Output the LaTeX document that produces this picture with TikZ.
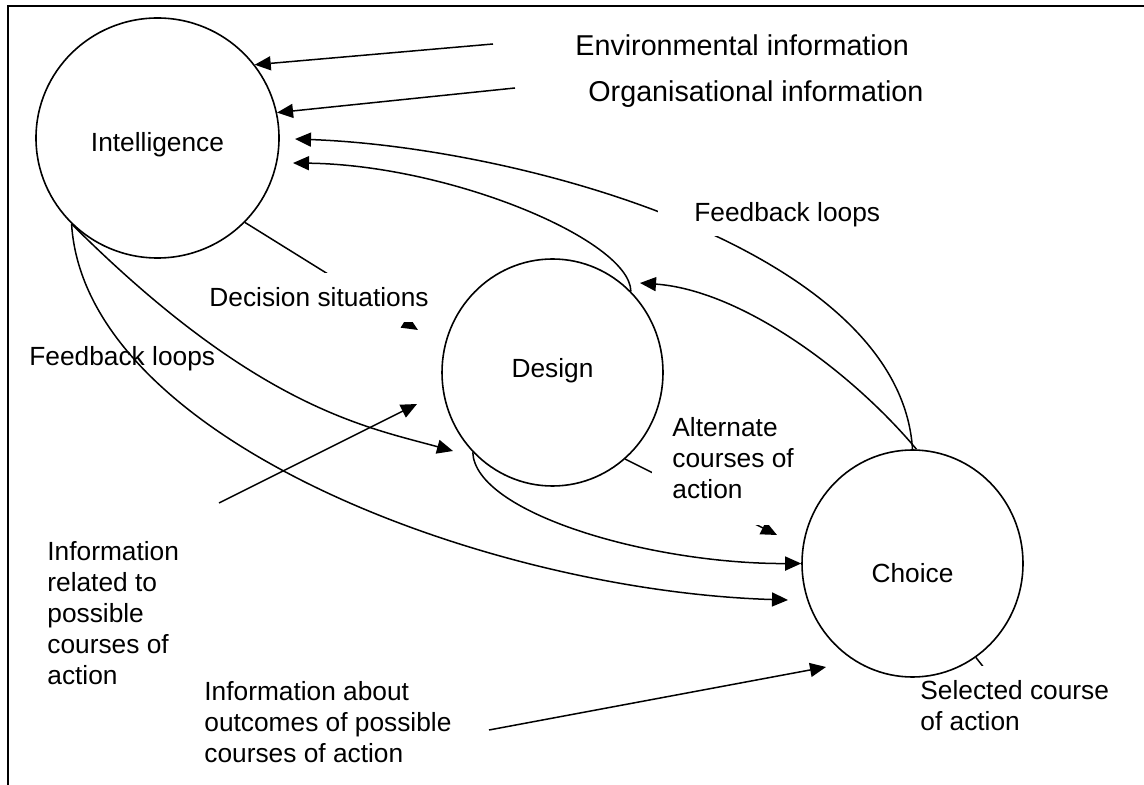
\documentclass[tikz,border=0pt]{standalone}
\usepackage{fontspec}
\setmainfont{Liberation Sans}
\usetikzlibrary{arrows.meta,shapes.geometric}

\pgfdeclarelayer{lines}
\pgfdeclarelayer{labels}
\pgfsetlayers{lines,labels,main}

\tikzset{
  stage/.style={draw, ellipse, line width=0.8pt, inner sep=0pt},
  flow/.style={line width=0.75pt, -{Triangle[length=8pt,width=7pt]}},
  note/.style={anchor=west, align=left, inner sep=0pt},
  masked/.style={note, fill=white},
  bignote/.style={note, font=\fontsize{14.35}{17}\selectfont},
}

\begin{document}
\begin{tikzpicture}[x=0.5pt, y=-0.5pt, font=\fontsize{13.15}{15.5}\selectfont]
\useasboundingbox (0,0) rectangle (1144,785);

% Draw the three stages
\node[stage, minimum width=121.5pt, minimum height=120pt] (intel) at (157.5,138) {\raisebox{-7pt}[0pt][0pt]{Intelligence}};
\node[stage, minimum width=110.5pt, minimum height=113.5pt] (design) at (552.5,372.5) {\raisebox{-2.5pt}[0pt][0pt]{Design}};
\node[stage, minimum width=110.5pt, minimum height=113.5pt] (choice) at (912.5,563.5) {\raisebox{-9.5pt}[0pt][0pt]{Choice}};

% Loose ends of the arrows
\coordinate (envsrc) at (493,44);
\coordinate (orgsrc) at (515,88);
\coordinate (fbtop) at (295,139);
\coordinate (fblow) at (293,163);
\coordinate (desup) at (640,283);
\coordinate (desleft) at (453,451);
\coordinate (choleft) at (788,600);
\coordinate (relsrc) at (219,503);
\coordinate (reltip) at (417,404);
\coordinate (dectip) at (418,330);
\coordinate (alttip) at (777,535);
\coordinate (selout) at (1000,688);
\coordinate (outsrc) at (489,730);
\coordinate (outtip) at (826,667);

\begin{pgfonlayer}{lines}
% Frame
\draw[line width=1pt] (1144,6) -- (8,6) -- (8,785);

% Incoming information
\draw[flow] (envsrc) -- (intel.37.5);
\draw[flow] (orgsrc) -- (intel.12);

% Feedback loops back to intelligence and design
\draw[flow] (choice.north) .. controls (900,250) and (520,147) .. (fbtop);
\draw[flow] (design.46) .. controls (630,240) and (450,165) .. (fblow);
\draw[flow] (choice.88) .. controls (850,370) and (740,290) .. (desup);

% Intelligence on to design and choice
\draw[flow] (intel.-44) -- (dectip);
\draw[flow] (intel.-135) .. controls (256,408) and (366,427) .. (desleft);
\draw[flow] (intel.-135) .. controls (85,440) and (488,591) .. (choleft);

% Design on to choice
\draw[flow] (design.-50) -- (alttip);
\draw[flow] (design.-135) .. controls (475,513) and (650,564) .. (choice.west);

% Other inputs and the output
\draw[flow] (relsrc) -- (reltip);
\draw[flow] (outsrc) -- (outtip);
\draw[flow] (choice.-56) -- (selout);
\end{pgfonlayer}

\begin{pgfonlayer}{labels}
% Add labels
\node[bignote] (envlbl) at (575,45) {Environmental information};
\node[bignote] (orglbl) at (588,94) {Organisational information};
\node[masked, inner xsep=18pt, inner ysep=4.5pt] (fbtoplbl) at (658,215) {Feedback loops};
\node[masked, inner xsep=3pt, inner ysep=7.25pt] (declbl) at (203,297.5) {Decision situations};
\node[note] (fblowlbl) at (29,359) {Feedback loops};
\node[masked, inner xsep=10pt, inner ysep=13pt] (altlbl) at (652,458) {Alternate\\courses of\\action};
\node[note] (rellbl) at (47,613) {Information\\related to\\possible\\courses of\\action};
\node[note] (outlbl) at (204,722) {Information about\\outcomes of possible\\courses of action};
\node[masked, inner xsep=3pt, inner ysep=7.5pt] (sellbl) at (914,706) {Selected course\\of action};
\end{pgfonlayer}
\end{tikzpicture}
\end{document}
